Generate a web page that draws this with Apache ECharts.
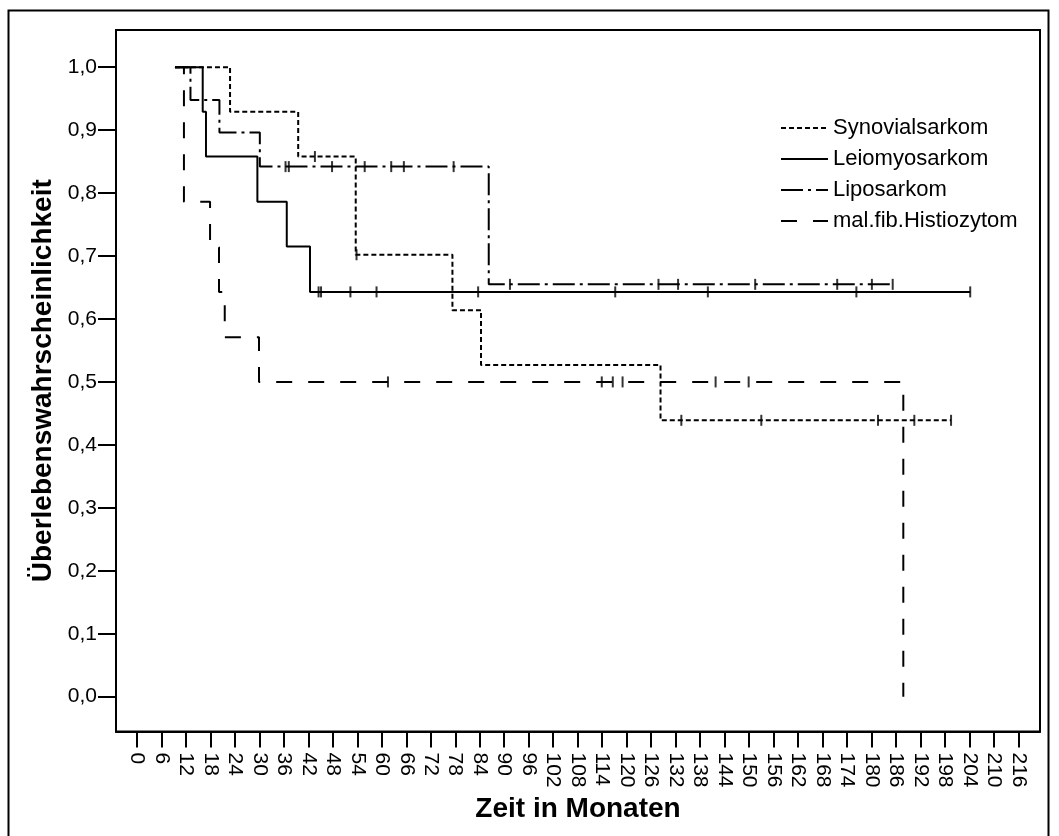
<!DOCTYPE html>
<html>
<head>
<meta charset="utf-8">
<script src="https://cdn.jsdelivr.net/npm/echarts@6/dist/echarts.min.js"></script>
<style>
html,body{margin:0;padding:0;background:#fff;}
#chart{width:1059px;height:836px;}
</style>
</head>
<body>
<div id="chart"></div>
<script>
// ---- data ----
const seriesNames = ['Synovialsarkom', 'Leiomyosarkom', 'Liposarkom', 'mal.fib.Histiozytom'];

const synTimes = [9.3, 22.8, 39.5, 53.6, 77.3, 84.3, 128.3, 199.5];
const synSurv  = [1.0, 0.929, 0.858, 0.702, 0.614, 0.527, 0.439, 0.439];
const synCensT = [43.6, 53.8, 133.4, 153.0, 181.6, 190.5, 199.5];
const synCensS = [0.858, 0.702, 0.439, 0.439, 0.439, 0.439, 0.439];

const leiTimes = [9.3, 16.1, 16.9, 29.5, 36.7, 42.4, 204.2];
const leiSurv  = [1.0, 0.929, 0.858, 0.786, 0.715, 0.643, 0.643];
const leiCensT = [44.5, 45.1, 52.3, 58.7, 83.6, 117.2, 139.9, 176.3, 204.2];
const leiCensS = [0.643, 0.643, 0.643, 0.643, 0.643, 0.643, 0.643, 0.643, 0.643];

const lipTimes = [9.3, 13.1, 20.2, 30.1, 86.2, 185.2];
const lipSurv  = [1.0, 0.948, 0.896, 0.842, 0.655, 0.655];
const lipCensT = [36.4, 37.2, 47.8, 55.8, 62.3, 65.4, 77.6, 91.4, 127.8, 132.6, 151.5, 171.6, 180.1, 185.2];
const lipCensS = [0.842, 0.842, 0.842, 0.842, 0.842, 0.842, 0.842, 0.655, 0.655, 0.655, 0.655, 0.655, 0.655, 0.655];

const mfhTimes = [9.3, 11.5, 17.9, 20.1, 21.5, 29.9, 187.8];
const mfhSurv  = [1.0, 0.786, 0.714, 0.643, 0.571, 0.5, 0.0];
const mfhCensT = [61.5, 113.9, 116.6, 119.0, 141.8, 149.9];
const mfhCensS = [0.5, 0.5, 0.5, 0.5, 0.5, 0.5];

const xTicks = [0,6,12,18,24,30,36,42,48,54,60,66,72,78,84,90,96,102,108,114,120,126,132,138,144,150,156,162,168,174,180,186,192,198,204,210,216];
const yTicks = [0,0.1,0.2,0.3,0.4,0.5,0.6,0.7,0.8,0.9,1.0];
const yTickLabels = ['0,0','0,1','0,2','0,3','0,4','0,5','0,6','0,7','0,8','0,9','1,0'];

// ---- build ----
const zip = (a, b) => a.map((v, i) => [v, b[i]]);
const dashTypes = [[5, 3], 'solid', [22, 5, 3, 5], [16, 16]];
const curves = [
  [synTimes, synSurv, synCensT, synCensS],
  [leiTimes, leiSurv, leiCensT, leiCensS],
  [lipTimes, lipSurv, lipCensT, lipCensS],
  [mfhTimes, mfhSurv, mfhCensT, mfhCensS]
];
const FONT = '"Liberation Sans", Arial, Helvetica, sans-serif';

const series = [];
curves.forEach((c, i) => {
  series.push({
    name: seriesNames[i],
    type: 'line',
    step: 'end',
    symbol: 'none',
    data: zip(c[0], c[1]),
    lineStyle: { color: '#000', width: 2, type: dashTypes[i] },
    itemStyle: { color: '#000' },
    z: 3
  });
});
curves.forEach((c, i) => {
  series.push({
    name: seriesNames[i] + ' (zensiert)',
    type: 'scatter',
    symbol: 'rect',
    symbolSize: [2, 11],
    data: zip(c[2], c[3]),
    itemStyle: { color: '#000' },
    z: 4
  });
});

const chart = echarts.init(document.getElementById('chart'), null, { renderer: 'canvas' });
chart.setOption({
  animation: false,
  backgroundColor: '#fff',
  textStyle: { fontFamily: FONT },
  graphic: [{
    type: 'rect',
    shape: { x: 8.5, y: 10.5, width: 1040, height: 900 },
    style: { fill: 'none', stroke: '#000', lineWidth: 2 },
    silent: true, z: -1
  }],
  grid: {
    left: 116, top: 30, right: 19, bottom: 104.5,
    show: true, borderColor: '#000', borderWidth: 2, backgroundColor: '#fff'
  },
  legend: {
    data: seriesNames,
    orient: 'vertical',
    left: 775, top: 112,
    itemWidth: 47, itemHeight: 14, itemGap: 9,
    itemStyle: { opacity: 0 },
    textStyle: { fontSize: 22, color: '#000', fontFamily: FONT },
    selectedMode: false
  },
  xAxis: {
    type: 'value',
    min: -5.15, max: 221.3,
    name: 'Zeit in Monaten',
    nameLocation: 'middle',
    nameGap: 62,
    nameTextStyle: { fontSize: 28, fontWeight: 'bold', color: '#000', fontFamily: FONT },
    axisLine: { show: true, onZero: false, lineStyle: { color: '#000', width: 2 } },
    axisTick: { show: true, length: 16, lineStyle: { color: '#000', width: 2 }, customValues: xTicks },
    axisLabel: {
      show: true, rotate: -90, margin: 21, fontSize: 21, color: '#000', fontFamily: FONT,
      customValues: xTicks, formatter: v => String(v)
    },
    splitLine: { show: false }
  },
  yAxis: {
    type: 'value',
    min: -0.0553, max: 1.059,
    name: 'Überlebenswahrscheinlichkeit',
    nameLocation: 'middle',
    nameGap: 58,
    nameTextStyle: { fontSize: 28, fontWeight: 'bold', color: '#000', fontFamily: FONT },
    axisLine: { show: true, onZero: false, lineStyle: { color: '#000', width: 2 } },
    axisTick: { show: true, length: 18, lineStyle: { color: '#000', width: 2 }, customValues: yTicks },
    axisLabel: {
      show: true, margin: 19, fontSize: 21, color: '#000', fontFamily: FONT,
      customValues: yTicks,
      formatter: v => {
        const idx = yTicks.findIndex(t => Math.abs(t - v) < 1e-6);
        return idx >= 0 ? yTickLabels[idx] : '';
      }
    },
    splitLine: { show: false }
  },
  series: series
});
</script>
</body>
</html>
